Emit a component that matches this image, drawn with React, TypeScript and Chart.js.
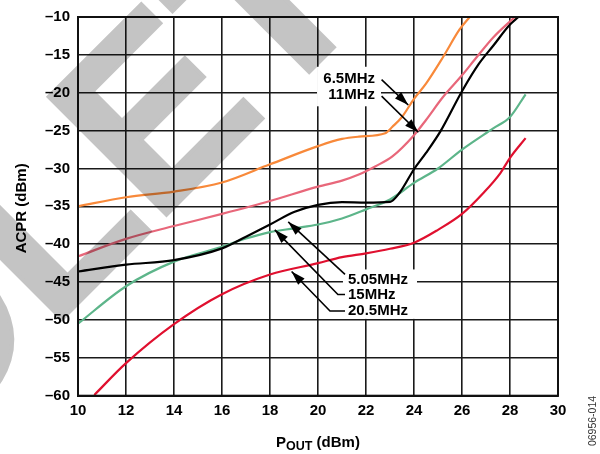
import React, { useEffect, useRef } from 'react';
import { Chart, registerables } from 'chart.js';
Chart.register(...registerables);

const FONT = '"Liberation Sans", Arial, Helvetica, sans-serif';

const xMin = 10, xMax = 30, xStep = 2;
const yMin = -60, yMax = -10, yStep = 5;

const x6_5 = [10, 12, 14, 16, 18, 20, 21, 21.7, 22.8, 23.1, 23.5, 24, 24.5, 25.2, 25.9, 26.32];
const y6_5 = [-35, -33.8, -33.05, -31.85, -29.45, -27.05, -26.1, -25.8, -25.35, -24.5, -23.2, -20.8, -18.8, -15.35, -11.65, -10];

const x11 = [10, 12, 14, 16, 18, 20, 21, 21.7, 22.4, 23.1, 24, 24.5, 25.2, 26, 26.6, 27.3, 28.2];
const y11 = [-41.6, -39.3, -37.6, -36.0, -34.3, -32.4, -31.6, -30.8, -29.7, -28.4, -25.6, -23.6, -20.6, -17.7, -15.35, -12.7, -10];

const x5_05 = [10, 12, 14, 16, 17, 18, 19, 20, 21, 22, 23, 23.4, 24, 24.5, 25.1, 26, 26.7, 27.3, 28, 28.35];
const y5_05 = [-43.6, -42.7, -42.1, -40.55, -39.0, -37.4, -35.75, -34.8, -34.45, -34.5, -34.4, -33.2, -30.1, -27.95, -25.1, -19.8, -16.2, -13.8, -11.0, -10];

const x15 = [10, 12, 14, 16, 17, 18, 19, 20, 21, 22, 23, 24, 25, 26, 27.3, 28, 28.65];
const y15 = [-50.5, -45.55, -42.3, -40.35, -39.25, -38.4, -37.9, -37.4, -36.6, -35.4, -34.1, -31.9, -30.0, -27.5, -24.7, -23.2, -20.2];

const x20_5 = [10.68, 12, 14, 16, 18, 20, 21, 22, 23, 24, 25, 26, 26.9, 27.6, 28, 28.65];
const y20_5 = [-59.9, -55.7, -50.55, -46.6, -44.0, -42.5, -41.7, -41.2, -40.6, -39.8, -38.1, -36.0, -33.2, -30.6, -28.6, -26.0];

const seriesNames = ['6.5MHz', '11MHz', '5.05MHz', '15MHz', '20.5MHz'];
const seriesX = [x6_5, x11, x5_05, x15, x20_5];
const seriesY = [y6_5, y11, y5_05, y15, y20_5];
const seriesColors = ['#f8893a', '#e8677a', '#000000', '#5db58a', '#e0102f'];

// annotation labels (data coordinates)
const topLabelText = ['6.5MHz', '11MHz'];
const topLabelY = [-18.13, -20.29];
const topLabelX = 22.375;
const topBox = { x0: 19.96, x1: 22.625, y0: -16.57, y1: -21.79 };
const topArrowFrom = [[22.65, -18.26], [22.65, -20.44]];
const topArrowTo = [[23.76, -21.62], [24.18, -25.22]];

const botLabelText = ['5.05MHz', '15MHz', '20.5MHz'];
const botLabelY = [-44.7, -46.66, -48.81];
const botLabelX = 21.25;
const botBox = { x0: 21.04, x1: 24.125, y0: -43.33, y1: -49.86 };
const botLeaders = [
  [[21.125, -43.98], [18.76, -37.06]],
  [[21.125, -46.63], [20.83, -46.63], [18.2, -38.1]],
  [[21.125, -48.81], [20.5, -48.81], [18.9, -43.6]],
];

const watermarkText = 'OBSOLETE';

function arrowHead(ctx: CanvasRenderingContext2D, fx: number, fy: number, tx: number, ty: number) {
  const a = Math.atan2(ty - fy, tx - fx);
  const L = 14, W = 4.5;
  ctx.beginPath();
  ctx.moveTo(tx, ty);
  ctx.lineTo(tx - L * Math.cos(a) + W * Math.sin(a), ty - L * Math.sin(a) - W * Math.cos(a));
  ctx.lineTo(tx - L * Math.cos(a) - W * Math.sin(a), ty - L * Math.sin(a) + W * Math.cos(a));
  ctx.closePath();
  ctx.fill();
}

const decor = {
  id: 'decor',
  beforeDraw(chart: any) {
    const ctx = chart.ctx;
    ctx.save();
    ctx.fillStyle = '#ffffff';
    ctx.fillRect(0, 0, chart.width, chart.height);
    ctx.restore();
  },
  afterDatasetsDraw(chart: any) {
    const ctx: CanvasRenderingContext2D = chart.ctx;
    const xs = chart.scales.x, ys = chart.scales.y;
    const px = (v: number) => xs.getPixelForValue(v);
    const py = (v: number) => ys.getPixelForValue(v);
    const ca = chart.chartArea;
    ctx.save();
    // frame
    ctx.strokeStyle = '#111';
    ctx.lineWidth = 2;
    ctx.strokeRect(ca.left, ca.top, ca.right - ca.left, ca.bottom - ca.top);
    // boxes
    ctx.fillStyle = '#fff';
    for (const b of [topBox, botBox]) {
      ctx.fillRect(px(b.x0), py(b.y0), px(b.x1) - px(b.x0), py(b.y1) - py(b.y0));
    }
    ctx.fillStyle = '#000';
    ctx.font = 'bold 15px ' + FONT;
    ctx.textBaseline = 'middle';
    ctx.textAlign = 'right';
    topLabelText.forEach((t, i) => ctx.fillText(t, px(topLabelX), py(topLabelY[i])));
    ctx.textAlign = 'left';
    botLabelText.forEach((t, i) => ctx.fillText(t, px(botLabelX), py(botLabelY[i])));
    ctx.strokeStyle = '#000';
    ctx.lineWidth = 1.6;
    topArrowFrom.forEach((f, i) => {
      const t = topArrowTo[i];
      ctx.beginPath();
      ctx.moveTo(px(f[0]), py(f[1]));
      ctx.lineTo(px(t[0]), py(t[1]));
      ctx.stroke();
      arrowHead(ctx, px(f[0]), py(f[1]), px(t[0]), py(t[1]));
    });
    botLeaders.forEach((pts) => {
      ctx.beginPath();
      pts.forEach((p, j) => (j === 0 ? ctx.moveTo(px(p[0]), py(p[1])) : ctx.lineTo(px(p[0]), py(p[1]))));
      ctx.stroke();
      const a = pts[pts.length - 2], b = pts[pts.length - 1];
      arrowHead(ctx, px(a[0]), py(a[1]), px(b[0]), py(b[1]));
    });
    // axis titles
    ctx.save();
    ctx.translate(21.5, (ca.top + ca.bottom) / 2 + 2);
    ctx.rotate(-Math.PI / 2);
    ctx.textAlign = 'center';
    ctx.textBaseline = 'middle';
    ctx.font = 'bold 15px ' + FONT;
    ctx.fillText('ACPR (dBm)', 0, 0);
    ctx.restore();
    // x title with subscript
    ctx.font = 'bold 15px ' + FONT;
    const wP = ctx.measureText('P').width;
    ctx.font = 'bold 12.5px ' + FONT;
    const wS = ctx.measureText('OUT').width;
    ctx.font = 'bold 15px ' + FONT;
    const wR = ctx.measureText(' (dBm)').width;
    const total = wP + wS + wR;
    let sx = (ca.left + ca.right) / 2 - total / 2;
    const base = 446.5;
    ctx.textAlign = 'left';
    ctx.textBaseline = 'alphabetic';
    ctx.fillText('P', sx, base);
    sx += wP;
    ctx.font = 'bold 12.5px ' + FONT;
    ctx.fillText('OUT', sx, base + 3);
    sx += wS;
    ctx.font = 'bold 15px ' + FONT;
    ctx.fillText(' (dBm)', sx, base);
    // figure id
    ctx.save();
    ctx.translate(593, 421);
    ctx.rotate(-Math.PI / 2);
    ctx.font = '10.5px ' + FONT;
    ctx.fillStyle = '#333';
    ctx.textAlign = 'center';
    ctx.textBaseline = 'middle';
    ctx.fillText('06956-014', 0, 0);
    ctx.restore();
    ctx.restore();
  },
  afterDraw(chart: any) {
    const ctx: CanvasRenderingContext2D = chart.ctx;
    const off = document.createElement('canvas');
    off.width = chart.width;
    off.height = chart.height;
    const o = off.getContext('2d') as CanvasRenderingContext2D;
    o.fillStyle = '#c4c4c4';
    o.strokeStyle = '#c4c4c4';
    o.lineWidth = 4;
    o.lineJoin = 'miter';
    o.font = 'bold 242px ' + FONT;
    o.textBaseline = 'alphabetic';
    o.textAlign = 'left';
    o.translate(155, 226);
    o.rotate(-Math.PI / 4);
    const w = o.measureText(watermarkText.slice(0, 5)).width;
    o.fillText(watermarkText, -w, 0);
    o.strokeText(watermarkText, -w, 0);
    ctx.save();
    ctx.globalCompositeOperation = 'multiply';
    ctx.drawImage(off, 0, 0);
    ctx.restore();
  },
};

export default function App() {
  const ref = useRef<HTMLCanvasElement>(null);
  useEffect(() => {
    if (!ref.current) return;
    const datasets = seriesNames.map((name, i) => ({
      label: name,
      data: seriesX[i].map((x, j) => ({ x, y: seriesY[i][j] })),
      borderColor: seriesColors[i],
      backgroundColor: seriesColors[i],
      borderWidth: 2.2,
      pointRadius: 0,
      fill: false,
      cubicInterpolationMode: 'monotone' as const,
    }));
    const chart = new Chart(ref.current, {
      type: 'line',
      data: { datasets },
      options: {
        animation: false,
        responsive: false,
        devicePixelRatio: 1,
        layout: { padding: { top: 12.7, right: 42, left: 0, bottom: 0 } },
        plugins: { legend: { display: false }, tooltip: { enabled: false } },
        scales: {
          x: {
            type: 'linear',
            min: xMin,
            max: xMax,
            afterFit: (s: any) => { s.height = 454 - 395.7; },
            ticks: {
              stepSize: xStep,
              color: '#000',
              padding: 6,
              font: { family: FONT, size: 15, weight: 'bold' },
              maxRotation: 0,
            },
            grid: { color: '#1a1a1a', lineWidth: 1.6, drawTicks: false },
            border: { display: true, color: '#111', width: 2 },
          },
          y: {
            type: 'linear',
            min: yMin,
            max: yMax,
            afterFit: (s: any) => { s.width = 78; },
            ticks: {
              stepSize: yStep,
              color: '#000',
              padding: 8,
              font: { family: FONT, size: 15, weight: 'bold' },
              callback: (v: any) => (Number(v) < 0 ? '\u2013' + Math.abs(Number(v)) : String(v)),
            },
            grid: { color: '#1a1a1a', lineWidth: 1.6, drawTicks: false },
            border: { display: true, color: '#111', width: 2 },
          },
        },
      },
      plugins: [decor],
    });
    return () => chart.destroy();
  }, []);
  return (
    <div style={{ position: 'absolute', left: 0, top: 0, width: 600, height: 454 }}>
      <canvas ref={ref} width={600} height={454} />
    </div>
  );
}
